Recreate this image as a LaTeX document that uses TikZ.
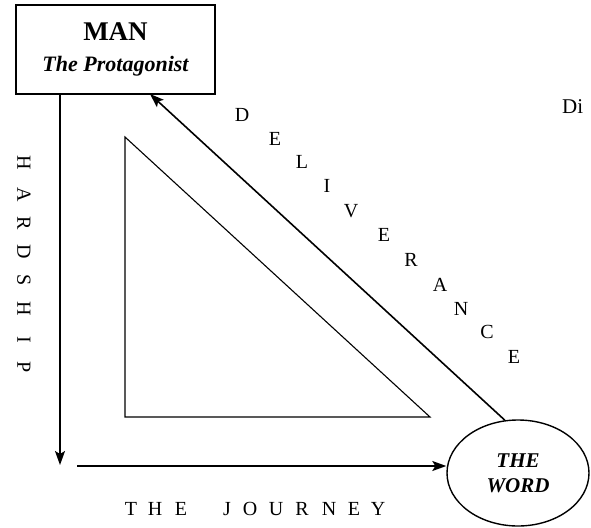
\documentclass[tikz,border=0pt]{standalone}
\usepackage{fontspec}
\setmainfont{Liberation Serif}
\usetikzlibrary{shapes.geometric,arrows.meta,calc}
\begin{document}
\begin{tikzpicture}[x=1pt,y=-1pt,
  box/.style={draw,line width=1.4pt,minimum width=199pt,minimum height=89pt,inner sep=0pt,align=center,font=\fontsize{22}{31}\selectfont},
  oval/.style={draw,ellipse,line width=1.4pt,minimum width=142pt,minimum height=106pt,inner sep=0pt,align=center,font=\fontsize{21}{25}\selectfont\bfseries\itshape},
  arr/.style={line width=1.6pt,-{Stealth[length=14pt,width=10pt,inset=3pt]}},
  ltr/.style={inner sep=0pt,font=\fontsize{20}{24}\selectfont},
  tri/.style={line width=1.1pt}]
\useasboundingbox (0,0) rectangle (591,527);
\node[box] (man) at (115.5,49.5) {{\fontsize{27}{31}\selectfont\bfseries MAN}\\{\bfseries\itshape The Protagonist}};
\node[oval] (word) at (518,473) {THE\\WORD};
\draw[tri] (125,137) -- (125,417) -- (430,417) -- cycle;
% arrows
\coordinate (hend) at (60,465);
\coordinate (jstart) at (77,466);
\coordinate (dtip) at (150,94);
\draw[arr] (man.south -| hend) -- (hend);
\draw[arr] (jstart) -- (jstart -| word.west);
\draw[arr] (word.104) -- (dtip);
% HARDSHIP
\foreach \c/\y in {H/163,A/195,R/223,D/252,S/280,H/309,I/340,P/367}
  \node[ltr,rotate=-90] at (24,\y) {\c};
% THE JOURNEY
\foreach \c/\x in {T/131,H/155,E/181,J/227,O/250,U/276,R/302,N/329,E/354,Y/378}
  \node[ltr,anchor=base] at (\x,515) {\c};
% DELIVERANCE
\foreach \c/\x/\y in {D/242/115,E/275/139,L/302/162,I/327/186,V/351/211,E/384/235,R/411/260,A/440/285,N/461/309,C/487/332,E/514/357}
  \node[ltr] at (\x,\y) {\c};
\node[ltr,anchor=base west,font=\fontsize{21}{24}\selectfont] (di) at (562,113) {Di};
\end{tikzpicture}
\end{document}
